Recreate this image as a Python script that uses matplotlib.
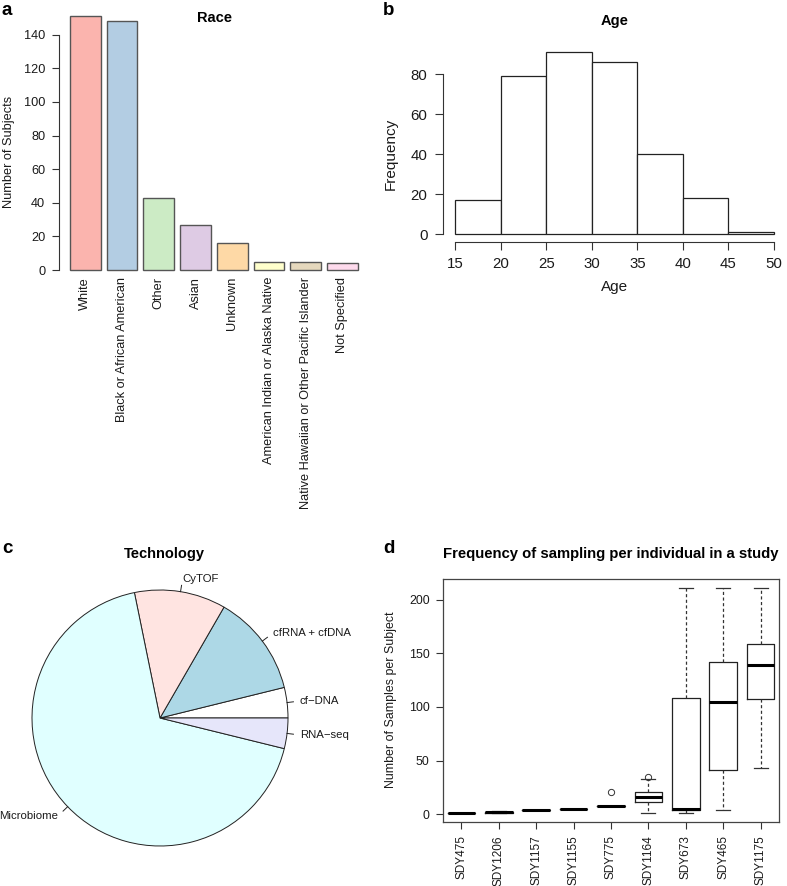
import matplotlib
matplotlib.use("Agg")
import matplotlib.pyplot as plt
import numpy as np

plt.rcParams['font.family'] = ['Liberation Sans', 'DejaVu Sans']

# ---------------- data ----------------
race_labels = ['White', 'Black or African American', 'Other', 'Asian', 'Unknown',
               'American Indian or Alaska Native',
               'Native Hawaiian or Other Pacific Islander', 'Not Specified']
race_counts = [151, 148, 43, 27, 16, 5, 5, 4]
race_colors = ['#FBB4AE', '#B3CDE3', '#CCEBC5', '#DECBE4', '#FED9A6', '#FFFFCC',
               '#E5D8BD', '#FDDAEC']

age_edges = [15, 20, 25, 30, 35, 40, 45, 50]
age_counts = [17, 79, 91, 86, 40, 18, 1]

tech_labels = ['cf\u2212DNA', 'cfRNA + cfDNA', 'CyTOF', 'Microbiome', 'RNA\u2212seq']
tech_counts = [3, 10, 9, 53, 3]
tech_colors = ['white', 'lightblue', 'mistyrose', 'lightcyan', 'lavender']

study_ids = ['SDY475', 'SDY1206', 'SDY1157', 'SDY1155', 'SDY775', 'SDY1164',
             'SDY673', 'SDY465', 'SDY1175']
box_whislo = [1, 1, 4, 5, 8, 1, 1, 4, 43]
box_q1 = [1, 1, 4, 5, 8, 11, 3.5, 41, 107]
box_med = [1, 2, 4, 5, 8, 16, 4.5, 105, 139]
box_q3 = [1, 2, 4, 5, 8, 20.5, 108, 142, 159]
box_whishi = [1, 3, 4, 5, 8, 33, 211, 211, 211]
box_fliers = [[], [], [], [], [21], [35], [], [], []]

# ---------------- layout helpers ----------------
W, H, DPI = 787, 886, 100
fig = plt.figure(figsize=(W / DPI, H / DPI), dpi=DPI)


def ax_px(l, t, r, b):
    return fig.add_axes([l / W, 1 - b / H, (r - l) / W, (b - t) / H])


def ftext(x, y, s, **kw):
    return fig.text(x / W, 1 - y / H, s, **kw)


TXT = '#1a1a1a'
AX = '#333333'

# ---------------- panel a ----------------
axA = ax_px(58.5, 6.1, 369.2, 271.7)
xpos = 0.7 + 1.2 * np.arange(len(race_counts))
axA.bar(xpos, race_counts, width=1, color=race_colors, edgecolor='#555555', linewidth=1.0)
axA.set_xlim(-0.176, 9.976)
axA.set_ylim(-1, 157)
for s in ['top', 'right', 'bottom']:
    axA.spines[s].set_visible(False)
axA.spines['left'].set_bounds(0, 140)
axA.spines['left'].set_color(AX)
axA.set_yticks(np.arange(0, 141, 20))
axA.tick_params(axis='y', labelsize=9.2, length=5, pad=4.5, color=AX, labelcolor=TXT)
axA.set_xticks(xpos)
axA.set_xticklabels(race_labels, rotation=90, fontsize=9.2, color=TXT)
axA.tick_params(axis='x', length=0, pad=3.8)
ftext(214, 21.7, 'Race', ha='center', va='baseline', fontsize=10.5, fontweight='bold')
ftext(9, 152, 'Number of Subjects', rotation=90, ha='center', va='center', fontsize=9.2, color=TXT)
ftext(2, 15, 'a', ha='left', va='baseline', fontsize=13.5, fontweight='bold')

# ---------------- panel b ----------------
axB = ax_px(442.6, 44.7, 786.7, 241.6)
axB.bar(age_edges[:-1], age_counts, width=np.diff(age_edges), align='edge',
        facecolor='white', edgecolor='#222222', linewidth=0.9)
axB.set_xlim(13.6, 51.4)
axB.set_ylim(-3.64, 94.64)
for s in ['top', 'right']:
    axB.spines[s].set_visible(False)
axB.spines['left'].set_bounds(0, 80)
axB.spines['bottom'].set_bounds(15, 50)
for s in ['left', 'bottom']:
    axB.spines[s].set_color(AX)
axB.set_xticks(age_edges)
axB.set_yticks(np.arange(0, 81, 20))
axB.tick_params(labelsize=10.8, length=5.8, pad=5, color=AX, labelcolor=TXT)
ftext(614.6, 25, 'Age', ha='center', va='baseline', fontsize=10.5, fontweight='bold')
ftext(614.6, 287, 'Age', ha='center', va='center', fontsize=11, color=TXT)
ftext(391, 154, 'Frequency', rotation=90, ha='center', va='center', fontsize=11, color=TXT)
ftext(383, 15, 'b', ha='left', va='baseline', fontsize=13.5, fontweight='bold')

# ---------------- panel c ----------------
R = 128.0
cx, cy = 160, 718
axC = ax_px(cx - 150, cy - 150, cx + 150, cy + 150)
wedges, texts = axC.pie(tech_counts, labels=tech_labels, colors=tech_colors, startangle=0,
                        counterclock=True, labeldistance=1.1,
                        wedgeprops=dict(edgecolor='#222222', linewidth=0.7),
                        textprops=dict(fontsize=8.2, color=TXT))
for w in wedges:
    mid = np.deg2rad((w.theta1 + w.theta2) / 2)
    axC.plot([np.cos(mid), 1.05 * np.cos(mid)], [np.sin(mid), 1.05 * np.sin(mid)],
             color='#222222', lw=0.7)
axC.set_xlim(-150 / R, 150 / R)
axC.set_ylim(-150 / R, 150 / R)
axC.set_aspect('equal')
axC.axis('off')
ftext(164, 558.3, 'Technology', ha='center', va='baseline', fontsize=10.5, fontweight='bold')
ftext(2, 553, 'c', ha='left', va='baseline', fontsize=13.5, fontweight='bold')

# ---------------- panel d ----------------
axD = ax_px(442.7, 579, 779.3, 822)
stats = []
for i in range(len(study_ids)):
    stats.append(dict(label=study_ids[i], whislo=box_whislo[i], q1=box_q1[i],
                      med=box_med[i], q3=box_q3[i], whishi=box_whishi[i],
                      fliers=box_fliers[i]))
axD.bxp(stats, positions=np.arange(1, len(stats) + 1), widths=0.74, showfliers=True,
        boxprops=dict(color='#222222', linewidth=0.9),
        whiskerprops=dict(color='#333333', linewidth=0.9, linestyle=(0, (2.5, 2))),
        capprops=dict(color='#333333', linewidth=0.9),
        medianprops=dict(color='black', linewidth=2.2),
        flierprops=dict(marker='o', markerfacecolor='none', markeredgecolor='#333333',
                        markersize=4.5, markeredgewidth=0.7))
axD.set_xlim(0.5, 9.5)
axD.set_ylim(-7.4, 219.4)
for s in axD.spines.values():
    s.set_color('#444444')
    s.set_linewidth(0.9)
axD.set_yticks(np.arange(0, 201, 50))
axD.set_xticks(np.arange(1, len(stats) + 1))
axD.set_xticklabels(study_ids, rotation=90, fontsize=8.5, color=TXT)
axD.tick_params(axis='y', labelsize=8.9, length=5, pad=4.5, color=AX, labelcolor=TXT)
axD.tick_params(axis='x', length=5, pad=4.5, color=AX)
ftext(611, 558.3, 'Frequency of sampling per individual in a study', ha='center',
      va='baseline', fontsize=10.7, fontweight='bold')
ftext(391, 700, 'Number of Samples per Subject', rotation=90, ha='center', va='center',
      fontsize=8.9, color=TXT)
ftext(383, 553, 'd', ha='left', va='baseline', fontsize=13.5, fontweight='bold')

fig.savefig('out.png', dpi=DPI)
